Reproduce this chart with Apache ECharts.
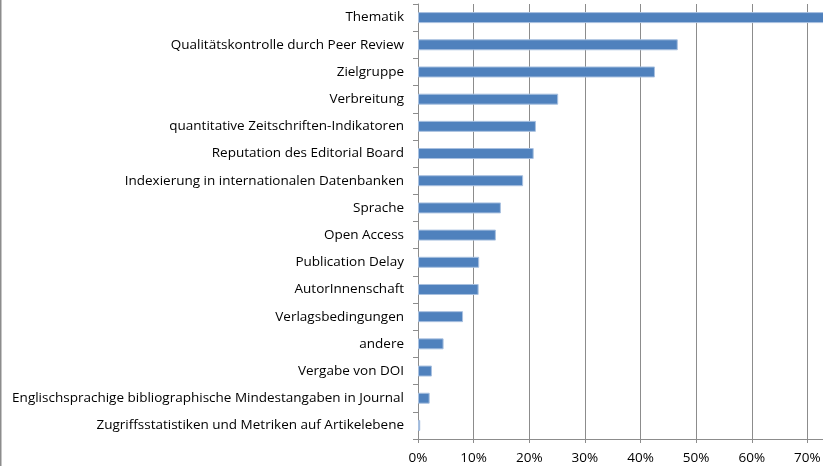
<!DOCTYPE html>
<html>
<head>
<meta charset="utf-8">
<script src="https://cdn.jsdelivr.net/npm/echarts@6/dist/echarts.min.js"></script>
<style>
  html, body { margin: 0; padding: 0; background: #fff; }
  #chart { width: 823px; height: 466px; }
</style>
</head>
<body>
<div id="chart"></div>
<script>
// Kriterien (von unten nach oben, wie die Kategorieachse sie zeichnet)
var categories = [
    'Zugriffsstatistiken und Metriken auf Artikelebene',
    'Englischsprachige bibliographische Mindestangaben in Journal',
    'Vergabe von DOI',
    'andere',
    'Verlagsbedingungen',
    'AutorInnenschaft',
    'Publication Delay',
    'Open Access',
    'Sprache',
    'Indexierung in internationalen Datenbanken',
    'Reputation des Editorial Board',
    'quantitative Zeitschriften-Indikatoren',
    'Verbreitung',
    'Zielgruppe',
    'Qualitätskontrolle durch Peer Review',
    'Thematik'
];
// Anteil in %
var values = [0.4, 2.1, 2.5, 4.6, 8.1, 10.9, 11.0, 14.0, 14.9, 18.9, 20.8, 21.2, 25.2, 42.6, 46.7, 74];

var chart = echarts.init(document.getElementById('chart'));
var option = {
    animation: false,
    textStyle: { fontFamily: 'Open Sans' },
    graphic: [{
        type: 'rect',
        shape: { x: 0, y: 0, width: 1.5, height: 466 },
        style: { fill: '#8c8c8c' }
    }],
    grid: {
        left: 418,
        right: -40,
        top: 4,
        bottom: 27,
        outerBoundsMode: 'none'
    },
    xAxis: {
        type: 'value',
        min: 0,
        max: 80,
        interval: 10,
        axisLine: { show: true, lineStyle: { color: '#8c8c8c' } },
        axisTick: { show: true, length: 4, lineStyle: { color: '#8c8c8c' } },
        splitLine: { show: true, lineStyle: { color: '#8c8c8c' } },
        axisLabel: {
            color: '#000',
            fontSize: 13.5,
            margin: 12,
            formatter: '{value}%'
        }
    },
    yAxis: {
        type: 'category',
        data: categories,
        axisLine: { show: true, lineStyle: { color: '#8c8c8c' } },
        axisTick: { show: true, length: 5, lineStyle: { color: '#8c8c8c' } },
        axisLabel: {
            color: '#000',
            fontSize: 13.5,
            margin: 14
        }
    },
    series: [{
        type: 'bar',
        data: values,
        barWidth: 11,
        itemStyle: {
            color: '#4f81bd',
            borderColor: '#a9c1e0',
            borderWidth: 1
        }
    }]
};
chart.setOption(option);
</script>
</body>
</html>
